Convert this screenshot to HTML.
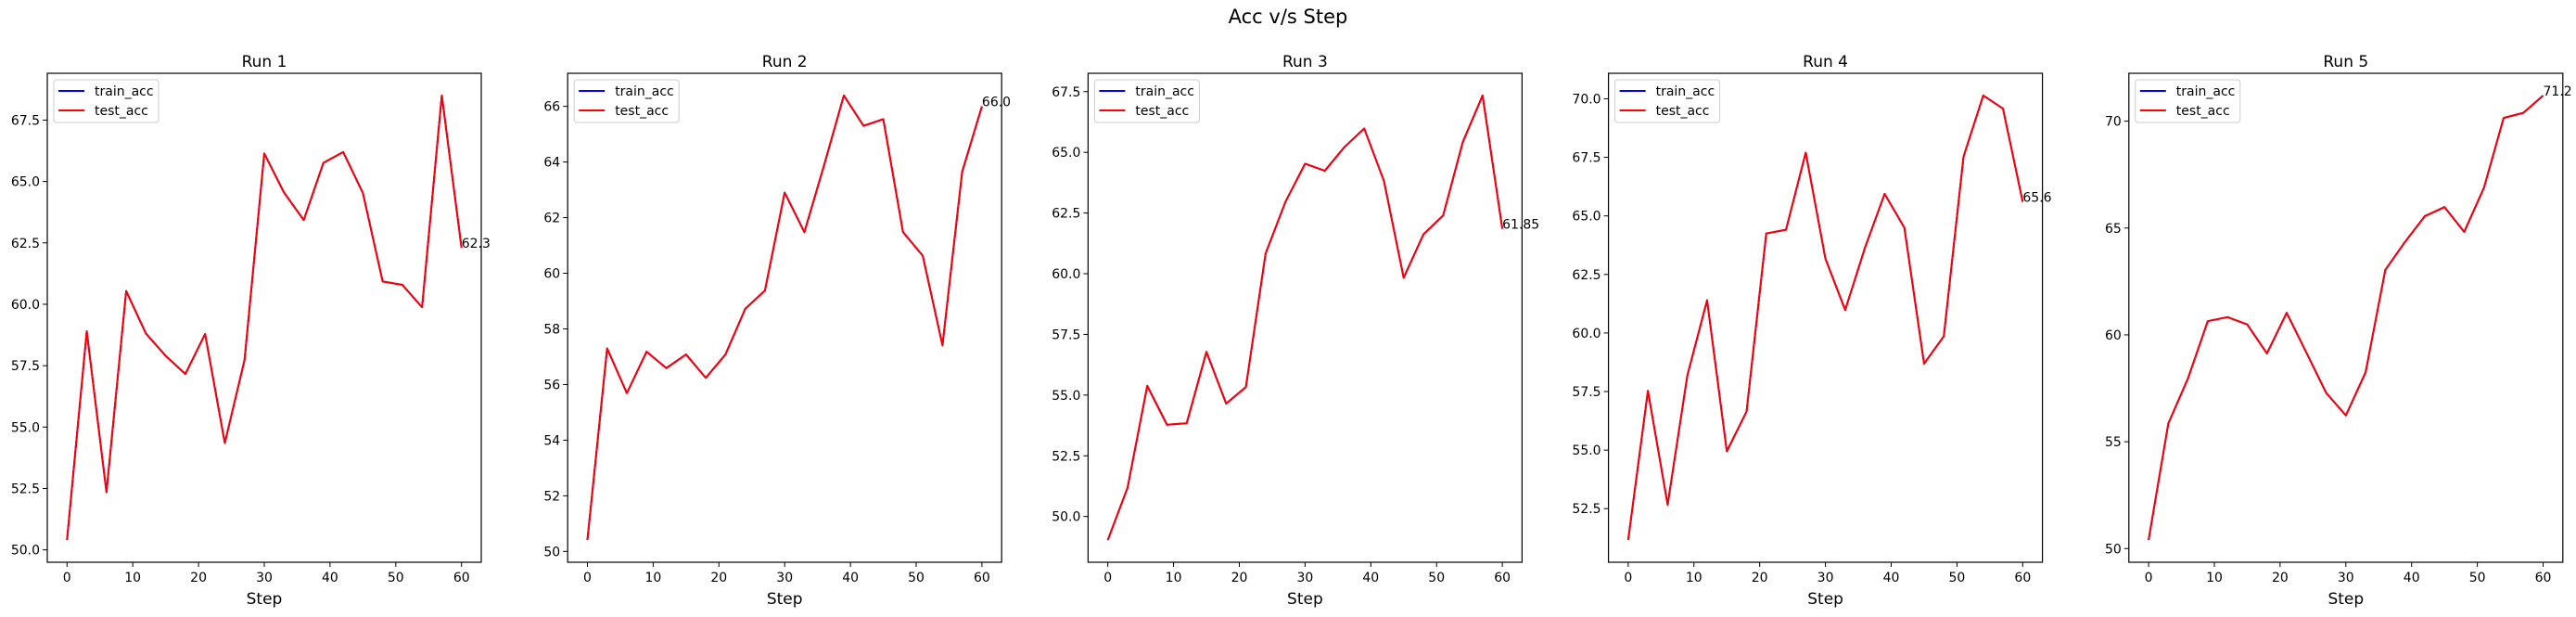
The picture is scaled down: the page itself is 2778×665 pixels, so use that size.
<!DOCTYPE html>
<html><head><meta charset="utf-8"><style>
html,body{margin:0;padding:0;background:#fff;}
svg{display:block;font-family:"DejaVu Sans","Liberation Sans",sans-serif;}
</style></head><body>
<svg id="fig" width="2778" height="665" viewBox="0 0 2778 665" xmlns="http://www.w3.org/2000/svg">
<rect width="2778" height="665" fill="#fff"/>
<text x="1389" y="25" font-size="21" text-anchor="middle" fill="#000">Acc v/s Step</text>
</svg>
<script>
const steps = [0,3,6,9,12,15,18,21,24,27,30,33,36,39,42,45,48,51,54,57,60];
const run1 = [50.4,58.9,52.35,60.54,58.81,57.9,57.16,58.79,54.35,57.73,66.14,64.55,63.43,65.76,66.2,64.53,60.93,60.79,59.88,68.5,62.3];
const run2 = [50.41,57.3,55.69,57.18,56.59,57.08,56.24,57.08,58.72,59.38,62.9,61.48,63.89,66.39,65.3,65.54,61.48,60.63,57.41,63.65,66.0];
const run3 = [49.03,51.18,55.38,53.78,53.84,56.78,54.65,55.33,60.83,62.95,64.53,64.24,65.22,65.98,63.82,59.83,61.62,62.4,65.43,67.34,61.85];
const run4 = [51.16,57.53,52.67,58.19,61.4,54.95,56.64,64.25,64.41,67.7,63.17,60.98,63.63,65.94,64.5,58.69,59.86,67.53,70.14,69.58,65.6];
const run5 = [50.4,55.85,57.97,60.64,60.83,60.49,59.13,61.03,59.17,57.29,56.23,58.24,63.04,64.35,65.55,65.98,64.82,66.88,70.15,70.39,71.2];
const runTitles = ["Run 1","Run 2","Run 3","Run 4","Run 5"];
const endLabels = ["62.3","66.0","61.85","65.6","71.2"];
const xTicks = [0,10,20,30,40,50,60];
const yTicks1 = [50.0,52.5,55.0,57.5,60.0,62.5,65.0,67.5];
const yTicks2 = [50,52,54,56,58,60,62,64,66];
const yTicks3 = [50.0,52.5,55.0,57.5,60.0,62.5,65.0,67.5];
const yTicks4 = [52.5,55.0,57.5,60.0,62.5,65.0,67.5,70.0];
const yTicks5 = [50,55,60,65,70];

const NS = "http://www.w3.org/2000/svg";
const svg = document.getElementById('fig');
function mk(tag, attrs, parent){
  const e = document.createElementNS(NS, tag);
  for (const k in attrs) e.setAttribute(k, attrs[k]);
  (parent||svg).appendChild(e);
  return e;
}
const runs = [run1,run2,run3,run4,run5];
const yTicksAll = [yTicks1,yTicks2,yTicks3,yTicks4,yTicks5];
const tickFmt = [1,0,1,1,0];
const AX_W = 468, TOP = 79, BOT = 606;
for (let r = 0; r < 5; r++) {
  const L = 51 + r*561.2, R = L + AX_W;
  const data = runs[r];
  const g = mk('g', {});
  
  
  const xmin = Math.min(...steps), xmax = Math.max(...steps);
  const xpad = (xmax - xmin)*0.05;
  const x0 = xmin - xpad, x1 = xmax + xpad;
  const ymin = Math.min(...data), ymax = Math.max(...data);
  const ypad = (ymax - ymin)*0.05;
  const y0 = ymin - ypad, y1 = ymax + ypad;
  const sx = v => L + (v - x0)/(x1 - x0)*AX_W;
  const sy = v => BOT - (v - y0)/(y1 - y0)*(BOT - TOP);
  // title
  const t = mk('text', {x:(L+R)/2, y:72, 'font-size':17, 'text-anchor':'middle', fill:'#000'}, g);
  t.textContent = runTitles[r];
  
  
  // x ticks
  xTicks.forEach(v => {
    const x = sx(v);
    const tk = mk('line', {x1:x, x2:x, y1:BOT, y2:BOT+5, stroke:'#000', 'stroke-width':1}, g);
    
    
    const tl = mk('text', {x:x, y:BOT+21, 'font-size':14, 'text-anchor':'middle', fill:'#000'}, g);
    tl.textContent = String(v);
    
    
  });
  // y ticks
  yTicksAll[r].forEach(v => {
    const y = sy(v);
    const tk = mk('line', {x1:L-5, x2:L, y1:y, y2:y, stroke:'#000', 'stroke-width':1}, g);
    
    
    const tl = mk('text', {x:L-8, y:y+5, 'font-size':14, 'text-anchor':'end', fill:'#000'}, g);
    tl.textContent = v.toFixed(tickFmt[r]);
    
    
  });
  const xl = mk('text', {x:(L+R)/2, y:651, 'font-size':17, 'text-anchor':'middle', fill:'#000'}, g);
  xl.textContent = 'Step';
  
  
  // lines
  const pts = steps.map((s,i) => sx(s).toFixed(2)+','+sy(data[i]).toFixed(2)).join(' ');
  const bl = mk('polyline', {points:pts, fill:'none', stroke:'#0000ff', 'stroke-width':2, 'stroke-linejoin':'round'}, g);
  
  
  const rl = mk('polyline', {points:pts, fill:'none', stroke:'#ff0000', 'stroke-width':2, 'stroke-linejoin':'round'}, g);
  
  
  // end label
  const last = steps.length-1;
  const el = mk('text', {x:sx(steps[last]), y:sy(data[last]), 'font-size':14, fill:'#000'}, g);
  el.textContent = endLabels[r];
  
  
  // frame
  const fr = mk('rect', {x:L, y:TOP, width:AX_W, height:BOT-TOP, fill:'none', stroke:'#000', 'stroke-width':1.2}, g);
  
  
  // legend
  const lg = mk('g', {}, g);
  
  
  mk('rect', {x:L+7, y:TOP+7, width:113, height:46, rx:3, fill:'#fff', 'fill-opacity':0.8, stroke:'#ccc', 'stroke-width':1}, lg);
  const items = [['train_acc','#0000ff'],['test_acc','#ff0000']];
  items.forEach((it,i) => {
    const yy = TOP + 19 + i*21;
    const e = mk('g', {}, lg);
    
    
    mk('line', {x1:L+12, x2:L+40, y1:yy, y2:yy, stroke:it[1], 'stroke-width':2}, e);
    const tx = mk('text', {x:L+51, y:yy+5, 'font-size':14, fill:'#000'}, e);
    tx.textContent = it[0];
  });
}
</script>
</body></html>
